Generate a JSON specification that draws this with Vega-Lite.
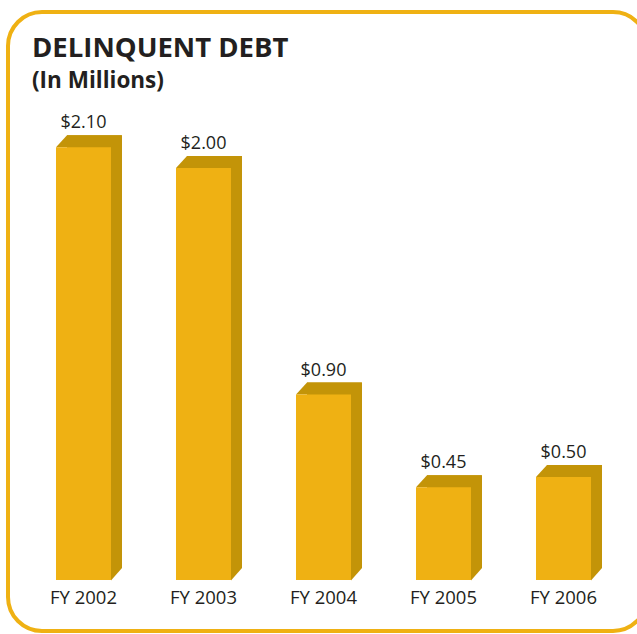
{
  "$schema": "https://vega.github.io/schema/vega-lite/v6.json",
  "autosize": {"type": "none"},
  "padding": {"left": 8, "top": 12, "right": -10, "bottom": 3},
  "width": 639,
  "height": 619,
  "background": "white",
  "title": {
    "text": "DELINQUENT DEBT",
    "subtitle": "(In Millions)",
    "anchor": "start",
    "frame": "group",
    "orient": "top",
    "offset": -80,
    "dx": 24,
    "font": "Open Sans",
    "fontSize": 27.5,
    "fontWeight": "bold",
    "color": "#231F20",
    "subtitleFont": "Open Sans",
    "subtitleFontSize": 22.5,
    "subtitleFontWeight": "bold",
    "subtitleColor": "#231F20",
    "subtitlePadding": 7
  },
  "data": {
    "values": [
      {"year": "FY 2002", "value": 2.10},
      {"year": "FY 2003", "value": 2.00},
      {"year": "FY 2004", "value": 0.90},
      {"year": "FY 2005", "value": 0.45},
      {"year": "FY 2006", "value": 0.50}
    ]
  },
  "encoding": {
    "x": {
      "field": "year",
      "type": "ordinal",
      "sort": null,
      "scale": {"paddingInner": 0.541667, "paddingOuter": 0.4333, "align": 0.4615},
      "axis": {
        "title": null,
        "orient": "bottom",
        "domain": false,
        "ticks": false,
        "labelAngle": 0,
        "labelFont": "Open Sans",
        "labelFontSize": 18.5,
        "labelColor": "#231F20",
        "labelBaseline": "alphabetic",
        "labelPadding": 0,
        "offset": -28
      }
    },
    "y": {
      "field": "value",
      "type": "quantitative",
      "scale": {"domain": [-0.2476, 2.757], "nice": false, "zero": false},
      "axis": null
    }
  },
  "layer": [
    {
      "mark": {"type": "bar", "color": "#C39408", "xOffset": 11, "x2Offset": 11, "yOffset": -12, "y2Offset": -12},
      "encoding": {"y2": {"datum": 0}}
    },
    {
      "mark": {"type": "point", "shape": "M -27.5 0 L 27.5 0 L 38.5 -12 L -16.5 -12 Z", "size": 4, "filled": true, "opacity": 1, "color": "#C39408", "strokeWidth": 0}
    },
    {
      "mark": {"type": "point", "shape": "M 27.5 0.5 L 27.5 -12 L 38.5 -12 Z", "size": 4, "filled": true, "opacity": 1, "color": "#C39408", "strokeWidth": 0},
      "encoding": {"y": {"datum": 0}}
    },
    {
      "mark": {"type": "bar", "color": "#EFB113"},
      "encoding": {"y2": {"datum": 0}}
    },
    {
      "mark": {"type": "text", "font": "Open Sans", "fontSize": 18, "color": "#231F20", "baseline": "alphabetic", "dy": -19},
      "encoding": {"text": {"field": "value", "type": "quantitative", "format": "$.2f"}}
    }
  ],
  "config": {
    "view": {"stroke": "#EFB113", "strokeWidth": 4, "cornerRadius": 34, "fill": "white"},
    "axis": {"grid": false}
  }
}
